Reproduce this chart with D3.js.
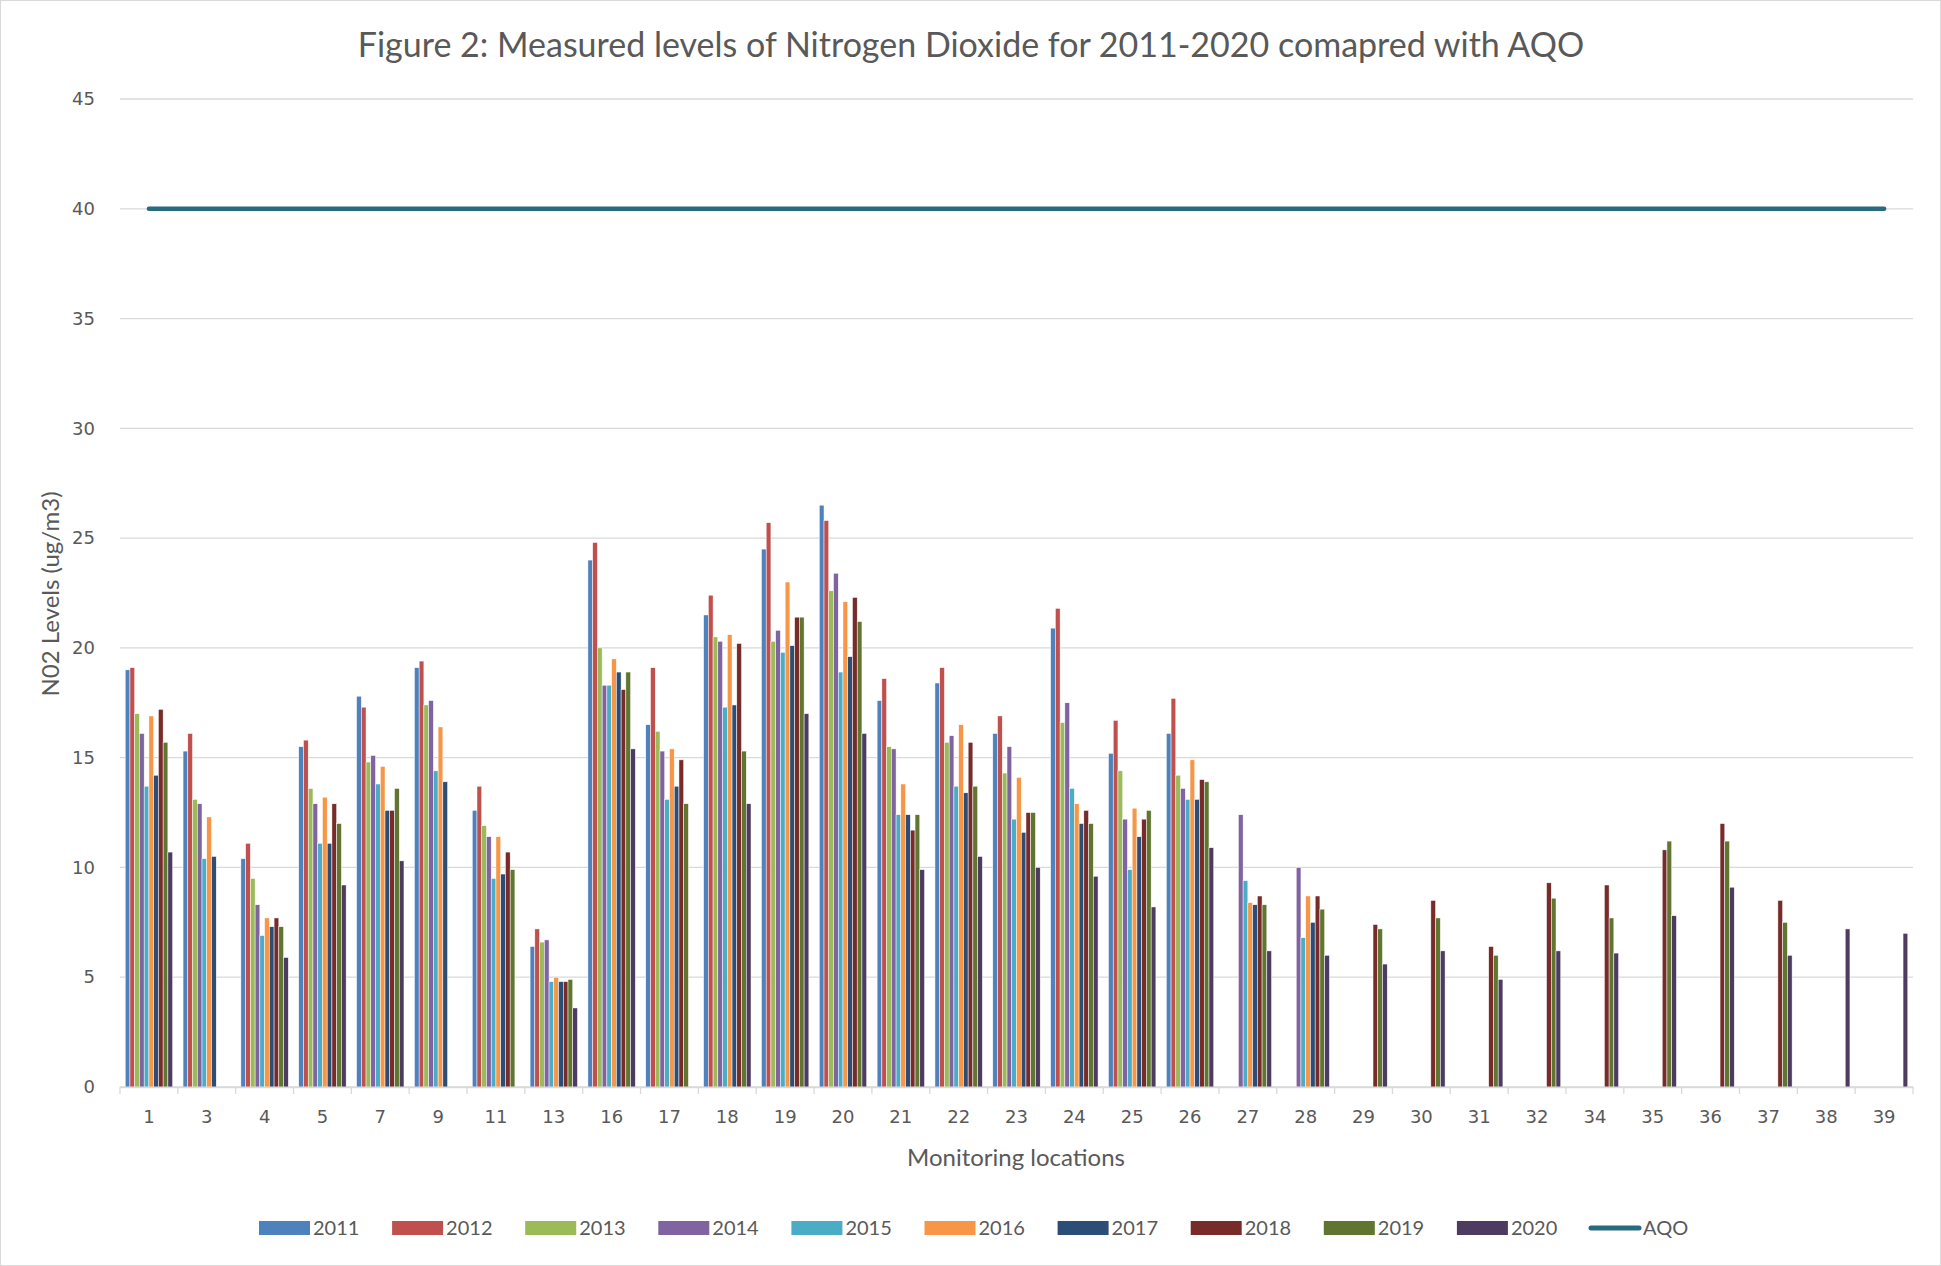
<!DOCTYPE html>
<html>
<title>NO2 levels</title>
<meta charset="UTF-8">
<script type="text/javascript" src="https://d3js.org/d3.v7.min.js"></script>
<style type="text/css">
	body {
		margin: 0;
		background: white;
	}
	.tickLabel {
		font-family: "DejaVu Sans", sans-serif;
		font-size: 18px;
		fill: #595959;
	}
	.label {
		font-family: Lato, "Open Sans", sans-serif;
		fill: #595959;
	}
</style>
<body>
	<svg id="viz"></svg>
</body>
<script type="text/javascript">

	var locations = ["1","3","4","5","7","9","11","13","16","17","18","19","20","21","22","23","24","25","26","27","28","29","30","31","32","34","35","36","37","38","39"];
	var years = ["2011","2012","2013","2014","2015","2016","2017","2018","2019","2020"];
	var yTicks = [0,5,10,15,20,25,30,35,40,45];
	var aqo = 40;

	var v2011 = [19.0,15.3,10.4,15.5,17.8,19.1,12.6,6.4,24.0,16.5,21.5,24.5,26.5,17.6,18.4,16.1,20.9,15.2,16.1,null,null,null,null,null,null,null,null,null,null,null,null];
	var v2012 = [19.1,16.1,11.1,15.8,17.3,19.4,13.7,7.2,24.8,19.1,22.4,25.7,25.8,18.6,19.1,16.9,21.8,16.7,17.7,null,null,null,null,null,null,null,null,null,null,null,null];
	var v2013 = [17.0,13.1,9.5,13.6,14.8,17.4,11.9,6.6,20.0,16.2,20.5,20.3,22.6,15.5,15.7,14.3,16.6,14.4,14.2,null,null,null,null,null,null,null,null,null,null,null,null];
	var v2014 = [16.1,12.9,8.3,12.9,15.1,17.6,11.4,6.7,18.3,15.3,20.3,20.8,23.4,15.4,16.0,15.5,17.5,12.2,13.6,12.4,10.0,null,null,null,null,null,null,null,null,null,null];
	var v2015 = [13.7,10.4,6.9,11.1,13.8,14.4,9.5,4.8,18.3,13.1,17.3,19.8,18.9,12.4,13.7,12.2,13.6,9.9,13.1,9.4,6.8,null,null,null,null,null,null,null,null,null,null];
	var v2016 = [16.9,12.3,7.7,13.2,14.6,16.4,11.4,5.0,19.5,15.4,20.6,23.0,22.1,13.8,16.5,14.1,12.9,12.7,14.9,8.4,8.7,null,null,null,null,null,null,null,null,null,null];
	var v2017 = [14.2,10.5,7.3,11.1,12.6,13.9,9.7,4.8,18.9,13.7,17.4,20.1,19.6,12.4,13.4,11.6,12.0,11.4,13.1,8.3,7.5,null,null,null,null,null,null,null,null,null,null];
	var v2018 = [17.2,null,7.7,12.9,12.6,null,10.7,4.8,18.1,14.9,20.2,21.4,22.3,11.7,15.7,12.5,12.6,12.2,14.0,8.7,8.7,7.4,8.5,6.4,9.3,9.2,10.8,12.0,8.5,null,null];
	var v2019 = [15.7,null,7.3,12.0,13.6,null,9.9,4.9,18.9,12.9,15.3,21.4,21.2,12.4,13.7,12.5,12.0,12.6,13.9,8.3,8.1,7.2,7.7,6.0,8.6,7.7,11.2,11.2,7.5,null,null];
	var v2020 = [10.7,null,5.9,9.2,10.3,null,null,3.6,15.4,null,12.9,17.0,16.1,9.9,10.5,10.0,9.6,8.2,10.9,6.2,6.0,5.6,6.2,4.9,6.2,6.1,7.8,9.1,6.0,7.2,7.0];

	var series = [v2011,v2012,v2013,v2014,v2015,v2016,v2017,v2018,v2019,v2020];
	var colors = ["#4F81BD","#C0504D","#9BBB59","#8064A2","#4BACC6","#F79646","#2C4D75","#772C2A","#5F7530","#4D3B62"];
	var aqoColor = "#286B7E";

	var W = 1941, H = 1266;
	var plotLeft = 120, plotRight = 1913, plotTop = 99, plotBottom = 1087;

	var svg = d3.select("#viz")
		.attr("width", W)
		.attr("height", H);

	svg.append("rect")
		.attr("x", 0.5).attr("y", 0.5)
		.attr("width", W - 1).attr("height", H - 1)
		.attr("fill", "white")
		.attr("stroke", "#d9d9d9");

	var xScale = d3.scaleBand()
		.domain(locations)
		.range([plotLeft, plotRight]);

	var xInner = d3.scaleBand()
		.domain(years)
		.range([0, xScale.bandwidth()])
		.paddingOuter(1.1);

	var yScale = d3.scaleLinear()
		.domain([0, 45])
		.range([plotBottom, plotTop]);

	// gridlines
	svg.append("g").selectAll("line")
		.data(yTicks)
		.enter().append("line")
		.attr("x1", plotLeft).attr("x2", plotRight)
		.attr("y1", function(d){ return yScale(d); })
		.attr("y2", function(d){ return yScale(d); })
		.attr("stroke", "#d9d9d9")
		.attr("stroke-width", 1.3);

	// y labels
	var yAxis = d3.axisLeft(yScale).tickValues(yTicks).tickSize(0).tickPadding(25);
	var gy = svg.append("g")
		.attr("transform", "translate(" + plotLeft + ",0)")
		.call(yAxis);
	gy.select(".domain").remove();
	gy.selectAll("text").attr("class", "tickLabel").attr("fill", null);
	gy.attr("font-family", null).attr("font-size", null);

	// bars
	var rows = [];
	locations.forEach(function(loc, i){
		years.forEach(function(yr, j){
			if (series[j][i] != null) rows.push({loc: loc, year: yr, value: series[j][i], color: colors[j]});
		});
	});

	svg.append("g").selectAll("rect")
		.data(rows)
		.enter().append("rect")
		.attr("x", function(d){ return xScale(d.loc) + xInner(d.year); })
		.attr("width", xInner.bandwidth())
		.attr("y", function(d){ return yScale(d.value); })
		.attr("height", function(d){ return yScale(0) - yScale(d.value); })
		.attr("fill", function(d){ return d.color; })
		.attr("stroke", "white")
		.attr("stroke-width", 0.5);

	// x axis
	var xAxis = d3.axisBottom(xScale).tickSize(0).tickPadding(23);
	var gx = svg.append("g")
		.attr("transform", "translate(0," + plotBottom + ")")
		.call(xAxis);
	gx.select(".domain").attr("stroke", "#d9d9d9").attr("stroke-width", 1.3);
	gx.selectAll("text").attr("class", "tickLabel").attr("fill", null);
	gx.attr("font-family", null).attr("font-size", null);

	var edges = locations.map(function(d){ return xScale(d); }).concat([plotRight]);
	svg.append("g").selectAll("line")
		.data(edges)
		.enter().append("line")
		.attr("x1", function(d){ return d; }).attr("x2", function(d){ return d; })
		.attr("y1", plotBottom).attr("y2", plotBottom + 7)
		.attr("stroke", "#d9d9d9")
		.attr("stroke-width", 1.3);

	// AQO line
	var line = d3.line()
		.x(function(d){ return xScale(d) + xScale.bandwidth() / 2; })
		.y(function(){ return yScale(aqo); });
	svg.append("path")
		.datum(locations)
		.attr("d", line)
		.attr("fill", "none")
		.attr("stroke", aqoColor)
		.attr("stroke-width", 4.5)
		.attr("stroke-linecap", "round");

	// titles
	svg.append("text")
		.attr("class", "label")
		.attr("x", 971).attr("y", 57)
		.attr("text-anchor", "middle")
		.style("font-size", "34px")
		.text("Figure 2: Measured levels of Nitrogen Dioxide for 2011-2020 comapred with AQO");

	svg.append("text")
		.attr("class", "label")
		.attr("transform", "translate(59,594) rotate(-90)")
		.attr("text-anchor", "middle")
		.style("font-size", "24px")
		.text("N02 Levels (ug/m3)");

	svg.append("text")
		.attr("class", "label")
		.attr("x", 1016).attr("y", 1166)
		.attr("text-anchor", "middle")
		.style("font-size", "24px")
		.text("Monitoring locations");

	// legend
	var legend = svg.append("g");
	var items = legend.selectAll("g")
		.data(years)
		.enter().append("g")
		.attr("transform", function(d, i){ return "translate(" + (259 + i * 133.1) + ",1221)"; });
	items.append("rect")
		.attr("width", 51).attr("height", 14)
		.attr("fill", function(d, i){ return colors[i]; });
	items.append("text")
		.attr("class", "label")
		.attr("x", 54).attr("y", 14)
		.style("font-size", "20px")
		.text(function(d){ return d; });

	var aqoItem = legend.append("g").attr("transform", "translate(1591,1228)");
	aqoItem.append("line")
		.attr("x1", 0).attr("x2", 48)
		.attr("stroke", aqoColor)
		.attr("stroke-width", 5)
		.attr("stroke-linecap", "round");
	aqoItem.append("text")
		.attr("class", "label")
		.attr("x", 52).attr("y", 7)
		.style("font-size", "20px")
		.text("AQO");

</script>
</html>
